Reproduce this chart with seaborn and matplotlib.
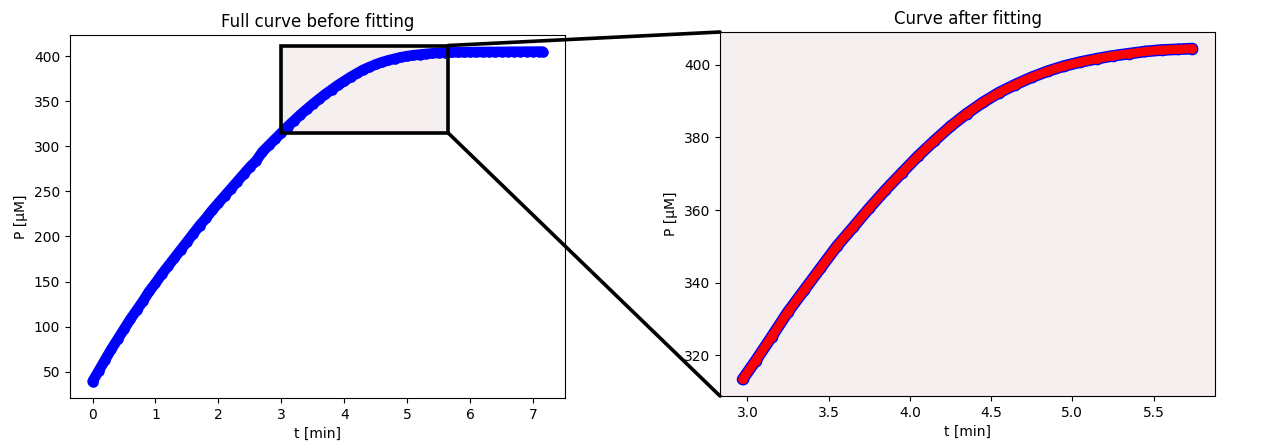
import matplotlib
matplotlib.use("Agg")
import matplotlib.pyplot as plt
from matplotlib.patches import Rectangle, ConnectionPatch
import seaborn as sns

# --- data ---
# full progress curve (t in min, P in uM)
t_full = [0.0, 0.1, 0.2, 0.3, 0.4, 0.5, 0.6, 0.7, 0.8, 0.9,
          1.0, 1.1, 1.2, 1.3, 1.4, 1.5, 1.6, 1.7, 1.8, 1.9,
          2.0, 2.1, 2.2, 2.3, 2.4, 2.5, 2.6, 2.7, 2.8, 2.9,
          3.0, 3.1, 3.2, 3.3, 3.4, 3.5, 3.6, 3.7, 3.8, 3.9,
          4.0, 4.1, 4.2, 4.3, 4.4, 4.5, 4.6, 4.7, 4.8, 4.9,
          5.0, 5.1, 5.2, 5.3, 5.4, 5.5, 5.6, 5.7, 5.8, 5.9,
          6.0, 6.1, 6.2, 6.3, 6.4, 6.5, 6.6, 6.7, 6.8, 6.9,
          7.0, 7.1, 7.15]
P_full = [39, 51, 63, 75, 86, 97, 108, 118, 128, 139,
          148, 158, 167, 176, 185, 194, 203, 212, 220, 229,
          237, 245, 253, 261, 269, 277, 284, 294, 301, 308,
          315, 322, 328.5, 335, 341, 347, 352.5, 358, 363, 368,
          372.5, 377, 381, 385, 388, 391, 393.5, 395.5, 397.3, 399,
          400.2, 401.2, 402, 402.7, 403.3, 403.8, 404.1, 404.3, 404.5, 404.6,
          404.7, 404.8, 404.8, 404.9, 404.9, 405.0, 405.0, 405.1, 405.1, 405.2,
          405.2, 405.3, 405.3]

# fitted window
t_fit = [2.97, 3.05, 3.15, 3.25, 3.35, 3.45, 3.55, 3.65, 3.75, 3.85,
         3.95, 4.05, 4.15, 4.25, 4.35, 4.45, 4.55, 4.65, 4.75, 4.85,
         4.95, 5.05, 5.15, 5.25, 5.35, 5.45, 5.55, 5.65, 5.74]
P_fit = [313.4, 318.5, 325.2, 332, 338, 344, 350, 355.2, 360.5, 365.5,
         370.2, 374.8, 379, 383, 386.5, 389.6, 392.3, 394.5, 396.5, 398.2,
         399.6, 400.7, 401.6, 402.4, 403, 403.6, 404, 404.2, 404.4]
P_model = P_fit

# zoom window drawn on the left panel
win_t = (3.0, 5.65)
win_P = (315, 412)
shade = "#f6efef"

fig = plt.figure(figsize=(12.78, 4.47), dpi=100)
ax1 = fig.add_axes([0.0548, 0.1096, 0.3873, 0.812])
ax2 = fig.add_axes([0.5634, 0.1141, 0.3873, 0.8143])

# --- left: full curve ---
sns.lineplot(x=t_full, y=P_full, ax=ax1, color="blue", linewidth=7.6,
             marker="o", markersize=7.6, markeredgewidth=0,
             solid_capstyle="round", zorder=2)
ax1.add_patch(Rectangle((win_t[0], win_P[0]), win_t[1] - win_t[0], win_P[1] - win_P[0],
                        facecolor=shade, edgecolor="none", zorder=1))
ax1.add_patch(Rectangle((win_t[0], win_P[0]), win_t[1] - win_t[0], win_P[1] - win_P[0],
                        facecolor="none", edgecolor="black", linewidth=2.6, zorder=3))
ax1.set_title("Full curve before fitting")
ax1.set_xlabel("t [min]")
ax1.set_ylabel("P [\u03bcM]")

# --- right: fitted window ---
ax2.set_facecolor(shade)
sns.lineplot(x=t_fit, y=P_fit, ax=ax2, color="blue", linewidth=8.4,
             marker="o", markersize=8.4, markeredgewidth=0,
             solid_capstyle="round", zorder=2)
sns.lineplot(x=t_fit, y=P_model, ax=ax2, color="red", linewidth=6.4,
             marker="o", markersize=6.4, markeredgewidth=0,
             solid_capstyle="round", zorder=3)
ax2.set_title("Curve after fitting")
ax2.set_xlabel("t [min]")
ax2.set_ylabel("P [\u03bcM]")

# connector lines from the window to the zoomed panel
for corner_P, ax_y in [(win_P[1], 1), (win_P[0], 0)]:
    con = ConnectionPatch(xyA=(win_t[1], corner_P), coordsA=ax1.transData,
                          xyB=(0, ax_y), coordsB=ax2.transAxes,
                          color="black", linewidth=2.6)
    fig.add_artist(con)

fig.savefig("out.png", dpi=100)
